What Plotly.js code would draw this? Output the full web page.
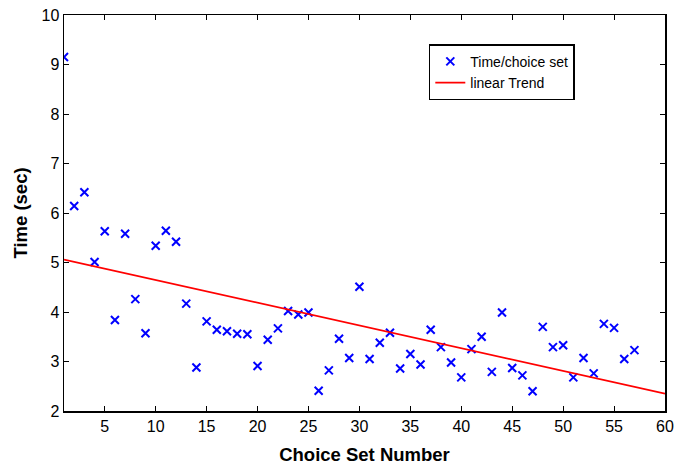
<!DOCTYPE html>
<html>
<head>
<meta charset="utf-8">
<script src="https://cdn.plot.ly/plotly-3.0.1.min.js"></script>
<style>html,body{margin:0;padding:0;background:#fff;}#chart{width:674px;height:466px;}</style>
</head>
<body>
<div id="chart"></div>
<script>
const choiceSet = [1,2,3,4,5,6,7,8,9,10,11,12,13,14,15,16,17,18,19,20,21,22,23,24,25,26,27,28,29,30,31,32,33,34,35,36,37,38,39,40,41,42,43,44,45,46,47,48,49,50,51,52,53,54,55,56,57];
const timePerSet = [9.15,6.14,6.42,5.01,5.63,3.84,5.58,4.26,3.57,5.34,5.64,5.42,4.17,2.88,3.81,3.64,3.61,3.56,3.55,2.91,3.44,3.67,4.02,3.95,3.99,2.41,2.82,3.46,3.07,4.51,3.05,3.38,3.58,2.86,3.15,2.94,3.64,3.29,2.98,2.68,3.25,3.50,2.79,3.99,2.87,2.72,2.40,3.70,3.29,3.33,2.68,3.07,2.76,3.76,3.68,3.05,3.23];
const trendX = [1, 60];
const trendY = [5.06, 2.35];
const xTicks = [5,10,15,20,25,30,35,40,45,50,55,60];
const yTicks = [2,3,4,5,6,7,8,9,10];

const fontFam = 'Liberation Sans, Arial, sans-serif';
const data = [
  {x: choiceSet, y: timePerSet, type: 'scatter', mode: 'markers', name: 'Time/choice set',
   marker: {symbol: 'x-thin', size: 8, color: '#0000ff', line: {color: '#0000ff', width: 2}}},
  {x: trendX, y: trendY, type: 'scatter', mode: 'lines', name: 'linear Trend',
   line: {color: '#ff0000', width: 1.8}}
];
const axisCommon = {showline: true, linecolor: '#000', linewidth: 1.5, mirror: 'ticks',
  ticks: 'inside', ticklen: 5, tickwidth: 1, tickcolor: '#000', showgrid: false, zeroline: false,
  tickfont: {family: fontFam, size: 16, color: '#000'}};
const layout = {
  width: 674, height: 466,
  margin: {l: 64, r: 9, t: 15, b: 55},
  paper_bgcolor: '#fff', plot_bgcolor: '#fff',
  showlegend: true,
  legend: {x: 0.607, y: 0.926, xanchor: 'left', yanchor: 'top', bordercolor: '#000', borderwidth: 1.5,
    bgcolor: '#fff', font: {family: fontFam, size: 14, color: '#000'}, tracegroupgap: 0,
    entrywidth: 170, entrywidthmode: 'pixels'},
  xaxis: Object.assign({}, axisCommon, {range: [1, 60], tickvals: xTicks, ticktext: xTicks.map(String),
    title: {text: '<b>Choice Set Number</b>', font: {family: fontFam, size: 18.5, color: '#000'}, standoff: 14}}),
  yaxis: Object.assign({}, axisCommon, {range: [2, 10], tickvals: yTicks, ticktext: yTicks.map(String),
    title: {text: '<b>Time (sec)</b>', font: {family: fontFam, size: 18.5, color: '#000'}, standoff: 9}})
};
Plotly.newPlot('chart', data, layout, {displayModeBar: false, staticPlot: true});
</script>
</body>
</html>
